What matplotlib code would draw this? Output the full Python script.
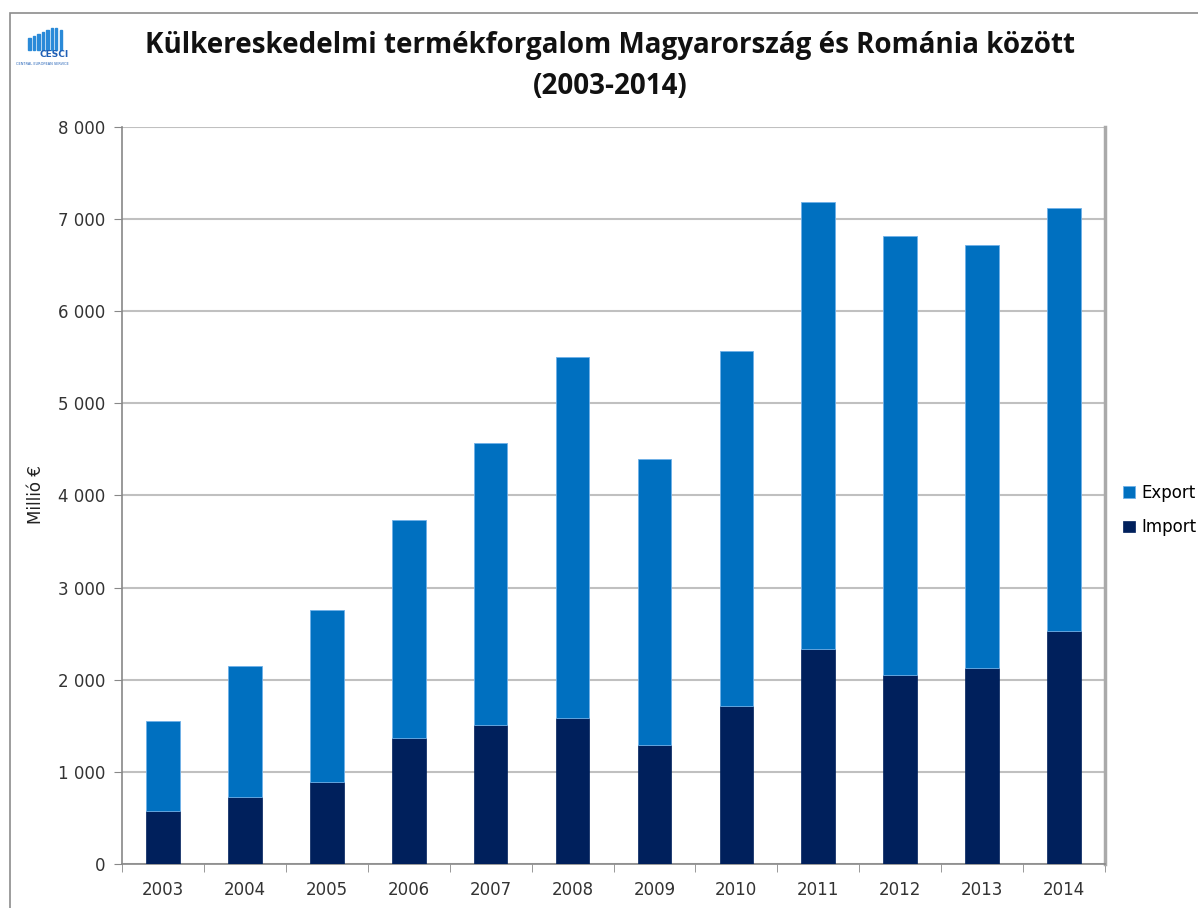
import matplotlib
matplotlib.use("Agg")
import matplotlib.pyplot as plt
from matplotlib.patches import Rectangle
from matplotlib.ticker import FuncFormatter, MultipleLocator

years = ["2003", "2004", "2005", "2006", "2007", "2008", "2009", "2010", "2011", "2012", "2013", "2014"]
import_vals = [575, 727, 890, 1368, 1509, 1585, 1292, 1715, 2334, 2052, 2128, 2530]
totals = [1553, 2150, 2758, 3735, 4571, 5505, 4397, 5570, 7188, 6819, 6721, 7123]
export_vals = [t - i for t, i in zip(totals, import_vals)]

title = "Külkereskedelmi termékforgalom Magyarország és Románia között\n(2003-2014)"
ylabel = "Millió €"

W, H = 1198, 908
fig = plt.figure(figsize=(W / 100, H / 100), dpi=100)
fig.patch.set_facecolor("white")

# outer border (left and top visible only)
fig.add_artist(Rectangle((10 / W, -0.2), 1.2, 1.2 - 13 / H, transform=fig.transFigure,
                         fill=False, edgecolor="#8c8c8c", linewidth=1.2))

ax = fig.add_axes([122 / W, (H - 864) / H, (1105 - 122) / W, (864 - 127) / H])
x = list(range(len(years)))
bw = 0.41
ax.bar(x, import_vals, width=bw, color="#00205c", edgecolor="#00205c", linewidth=0.5, label="Import", zorder=3)
ax.bar(x, export_vals, width=bw, bottom=import_vals, color="#0070c0", edgecolor="#6fb0e8",
       linewidth=0.6, label="Export", zorder=3)

ax.set_xlim(-0.5, len(years) - 0.5)
ax.set_ylim(0, 8000)
ax.yaxis.set_major_locator(MultipleLocator(1000))
ax.yaxis.set_major_formatter(FuncFormatter(lambda v, p: f"{int(v):,}".replace(",", " ")))
ax.set_xticks(x)
ax.set_xticklabels(years)
ax.set_xticks([i + 0.5 for i in range(-1, len(years))], minor=True)
ax.tick_params(axis="x", which="major", length=0, pad=12, labelsize=12, labelcolor="#333333")
ax.tick_params(axis="x", which="minor", length=6, color="#888888")
ax.tick_params(axis="y", length=6, color="#888888", labelsize=12, labelcolor="#333333", pad=6)
ax.grid(axis="y", color="#c0c0c0", linewidth=1.5, zorder=0)
for s in ["left", "bottom"]:
    ax.spines[s].set_color("#888888")
    ax.spines[s].set_linewidth(1.2)
ax.spines["top"].set_visible(False)
ax.spines["right"].set_color("#aaaaaa")
ax.spines["right"].set_linewidth(2.5)
ax.set_ylabel(ylabel, fontsize=12, color="#222222")
ax.yaxis.set_label_coords((45 - 122) / (1105 - 122), (864 - 495) / (864 - 127))

handles, labels = ax.get_legend_handles_labels()
leg = fig.legend(handles[::-1], labels[::-1], loc="center left", bbox_to_anchor=(1108 / W, 1 - 510 / H),
                 frameon=False, fontsize=12, handlelength=0.7, handleheight=0.7, handletextpad=0.4,
                 labelspacing=1.0)

fig.text(610 / W, 1 - 66 / H, title, ha="center", va="center", fontsize=20, fontweight="bold",
         family="Open Sans", linespacing=1.5, color="#111111")

# logo approximation
for k, hgt in enumerate([12, 14, 16, 18, 20, 22, 22, 20]):
    fig.add_artist(Rectangle(((28 + k * 4.5) / W, 1 - 50 / H), 2.5 / W, hgt / H,
                             transform=fig.transFigure, color="#2a8ad8"))
fig.text(40 / W, 1 - 57 / H, "CESCI", fontsize=6.5, color="#1f5fb5", fontweight="bold")
fig.text(42 / W, 1 - 65 / H, "CENTRAL EUROPEAN SERVICE", fontsize=2.5, color="#1f5fb5", ha="center")

fig.savefig("out.png", dpi=100)
